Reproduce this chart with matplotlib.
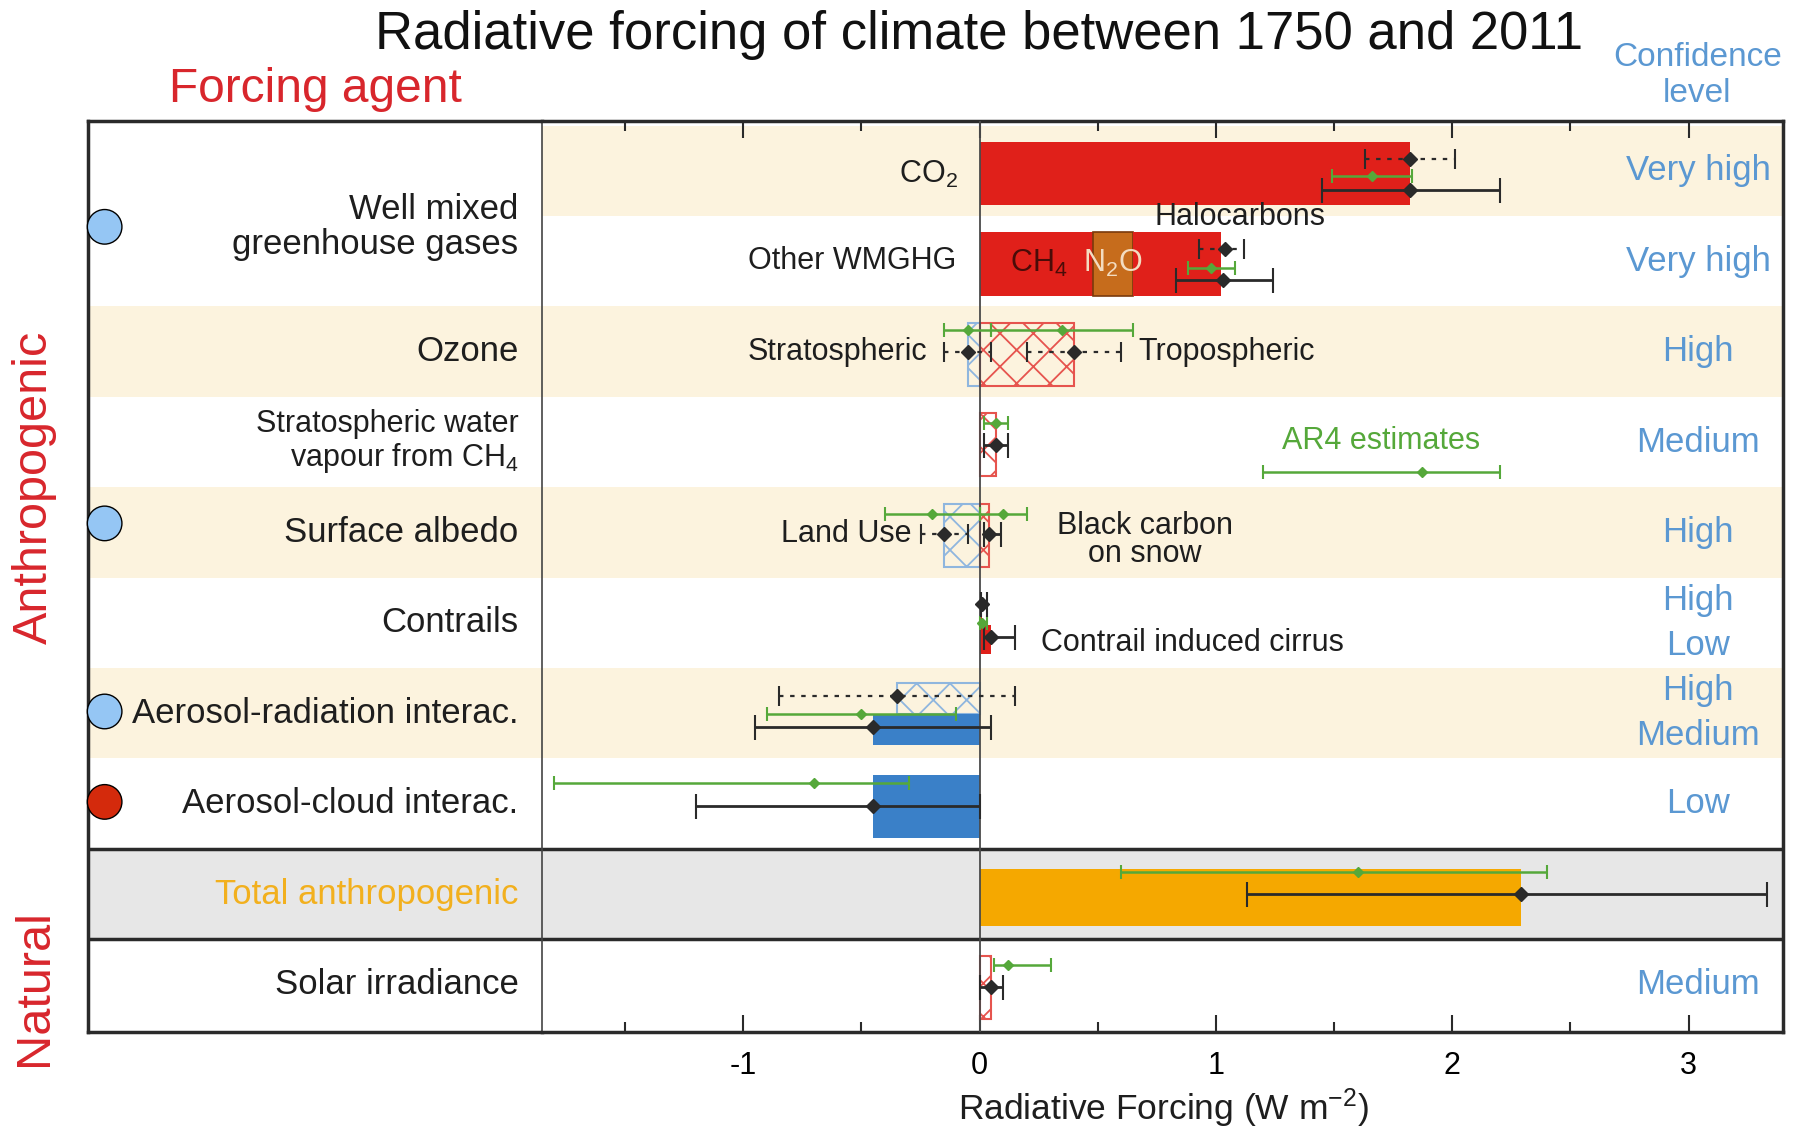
import matplotlib
matplotlib.use('Agg')
import matplotlib.pyplot as plt

plt.rcParams['font.family'] = ['Liberation Sans', 'DejaVu Sans']
plt.rcParams['mathtext.fontset'] = 'custom'
plt.rcParams['mathtext.rm'] = 'Liberation Sans'
plt.rcParams['mathtext.it'] = 'Liberation Sans:italic'
plt.rcParams['mathtext.bf'] = 'Liberation Sans:bold'
plt.rcParams['axes.unicode_minus'] = False
plt.rcParams['hatch.linewidth'] = 1.3

# ---- data (W m-2), rows counted from the top ----
row_labels = ['Well mixed\ngreenhouse gases', '', 'Ozone',
              'Stratospheric water\nvapour from CH$_4$', 'Surface albedo',
              'Contrails', 'Aerosol-radiation interac.', 'Aerosol-cloud interac.',
              'Total anthropogenic', 'Solar irradiance']

# bars (AR5 best estimates)
bar_names = ['CO2', 'CH4', 'N2O', 'Halocarbons', 'Strat. O3', 'Trop. O3',
             'Strat. H2O', 'Land use', 'BC on snow', 'Contrails', 'Contrail cirrus',
             'Aer-rad RF', 'Aer-rad ERF', 'Aer-cloud ERF', 'Total anthropogenic', 'Solar']
bar_rows = [0, 1, 1, 1, 2, 2, 3, 4, 4, 5, 5, 6, 6, 7, 8, 9]
bar_starts = [0, 0, 0.48, 0.65, 0, 0, 0, 0, 0, 0, 0, 0, 0, 0, 0, 0]
bar_values = [1.82, 0.48, 0.17, 0.37, -0.05, 0.40, 0.07, -0.15, 0.04, 0.01, 0.05,
              -0.35, -0.45, -0.45, 2.29, 0.05]

# AR5 ranges (black)
ar5_names = ['CO2', 'CO2 ERF', 'Other WMGHG', 'Other WMGHG ERF', 'Strat. O3', 'Trop. O3',
             'Strat. H2O', 'Land use', 'BC on snow', 'Contrails', 'Contrail cirrus',
             'Aer-rad RF', 'Aer-rad ERF', 'Aer-cloud ERF', 'Total anthropogenic', 'Solar']
ar5_rows = [0, 0, 1, 1, 2, 2, 3, 4, 4, 5, 5, 6, 6, 7, 8, 9]
ar5_best = [1.82, 1.82, 1.04, 1.03, -0.05, 0.40, 0.07, -0.15, 0.04, 0.01, 0.05,
            -0.35, -0.45, -0.45, 2.29, 0.05]
ar5_low = [1.63, 1.45, 0.93, 0.83, -0.15, 0.20, 0.02, -0.25, 0.02, 0.005, 0.02,
           -0.85, -0.95, -1.20, 1.13, 0.00]
ar5_high = [2.01, 2.20, 1.12, 1.24, 0.05, 0.60, 0.12, -0.05, 0.09, 0.03, 0.15,
            0.15, 0.05, 0.00, 3.33, 0.10]

# AR4 estimates (green)
ar4_names = ['CO2', 'Other WMGHG', 'Strat. O3', 'Trop. O3', 'Strat. H2O', 'Land use',
             'BC on snow', 'Contrails', 'Aer-rad', 'Aer-cloud', 'Total anthropogenic', 'Solar']
ar4_rows = [0, 1, 2, 2, 3, 4, 4, 5, 6, 7, 8, 9]
ar4_best = [1.66, 0.98, -0.05, 0.35, 0.07, -0.20, 0.10, 0.01, -0.50, -0.70, 1.60, 0.12]
ar4_low = [1.49, 0.88, -0.15, 0.05, 0.02, -0.40, 0.00, 0.003, -0.90, -1.80, 0.60, 0.06]
ar4_high = [1.83, 1.08, 0.05, 0.65, 0.12, 0.00, 0.20, 0.03, -0.10, -0.30, 2.40, 0.30]
ar4_key = [1.87, 1.20, 2.20]   # best, low, high of the legend sample

conf_text = ['Very high', 'Very high', 'High', 'Medium', 'High', 'High', 'Low',
             'High', 'Medium', 'Low', 'Medium']
conf_rows = [0, 1, 2, 3, 4, 5, 5, 6, 6, 7, 9]

circle_rows = [0.62, 3.9, 5.98, 6.98]
circle_kind = ['light', 'light', 'light', 'dark']

# ---- colours ----
RED = '#e0201a'
N2O_C = '#c66c1c'
BLUE = '#3a80c8'
BLUE_H = '#8fb6de'
RED_H = '#e6544e'
ORANGE = '#f5a800'
BEIGE = '#fcf3de'
GREY = '#e7e7e7'
GREEN = '#55a83a'
CONF = '#5b98d2'
AGENT_RED = '#d8262c'
TOTAL_C = '#f2b01e'
TXT = '#1e1e1e'
LINE = '#2a2a2a'

# vertical span of each bar inside its row (offsets from row centre) and fill
default_span = (-0.32, 0.38)
bar_style = {
    'CO2': dict(fc=RED), 'CH4': dict(fc=RED),
    'N2O': dict(fc=N2O_C, ec='#7a3a0c'), 'Halocarbons': dict(fc=RED),
    'Strat. O3': dict(hatch=BLUE_H), 'Trop. O3': dict(hatch=RED_H),
    'Strat. H2O': dict(hatch=RED_H), 'Land use': dict(hatch=BLUE_H),
    'BC on snow': dict(hatch=RED_H),
    'Contrails': dict(fc=RED, span=(-0.3, 0.0)),
    'Contrail cirrus': dict(fc=RED, span=(0.02, 0.34)),
    'Aer-rad RF': dict(hatch=BLUE_H, span=(-0.34, 0.01)),
    'Aer-rad ERF': dict(fc=BLUE, span=(0.01, 0.35)),
    'Aer-cloud ERF': dict(fc=BLUE),
    'Total anthropogenic': dict(fc=ORANGE, span=(-0.28, 0.35)),
    'Solar': dict(hatch=RED_H),
}
# (offset in row, line style)
ar5_style = {
    'CO2': (-0.13, ':'), 'CO2 ERF': (0.21, '-'),
    'Other WMGHG': (-0.13, ':'), 'Other WMGHG ERF': (0.21, '-'),
    'Strat. O3': (0.0, ':'), 'Trop. O3': (0.0, ':'),
    'Strat. H2O': (0.03, '-'), 'Land use': (0.02, ':'), 'BC on snow': (0.02, '-'),
    'Contrails': (-0.21, '-'), 'Contrail cirrus': (0.16, '-'),
    'Aer-rad RF': (-0.19, ':'), 'Aer-rad ERF': (0.15, '-'),
    'Aer-cloud ERF': (0.02, '-'), 'Total anthropogenic': (0.0, '-'), 'Solar': (0.03, '-'),
}
ar4_offset = [0.06, 0.07, -0.24, -0.24, -0.21, -0.2, -0.2, 0.0, 0.01, -0.23, -0.24, -0.22]

fig = plt.figure(figsize=(17.98, 11.29), dpi=100)
box_bottom, box_top = 0.0863, 0.8924
ax_lab = fig.add_axes([0.0491, box_bottom, 0.2526, box_top - box_bottom])
ax = fig.add_axes([0.3017, box_bottom, 0.69, box_top - box_bottom])

ylim = (9.52, -0.545)
for a in (ax, ax_lab):
    a.set_ylim(*ylim)
    a.set_yticks([])
ax_lab.set_xlim(0, 1)
ax_lab.set_xticks([])
ax.set_xlim(-1.85, 3.40)

# background bands
for r in [0, 2, 4, 6]:
    ax.axhspan(r - 0.5, r + 0.5, color=BEIGE, lw=0, zorder=0)
    if r != 0:
        ax_lab.axhspan(r - 0.5, r + 0.5, color=BEIGE, lw=0, zorder=0)
for a in (ax, ax_lab):
    a.axhspan(7.5, 8.5, color=GREY, lw=0, zorder=0)
    a.axhline(7.5, color=LINE, lw=2.5, zorder=1)
    a.axhline(8.5, color=LINE, lw=2.5, zorder=1)

# bars
for name, row, start, val in zip(bar_names, bar_rows, bar_starts, bar_values):
    st = bar_style[name]
    y0, y1 = st.get('span', default_span)
    yc, h = row + (y0 + y1) / 2, y1 - y0
    if 'hatch' in st:
        ax.barh(yc, val, left=start, height=h, fill=False, hatch='x',
                edgecolor=st['hatch'], lw=1.5, zorder=2)
    else:
        ax.barh(yc, val, left=start, height=h, color=st['fc'],
                edgecolor=st.get('ec', 'none'), lw=1.2, zorder=2)

ax.axvline(0, color='#4a4a4a', lw=1.3, zorder=3)


def draw_range(best, low, high, y, color, lw, ms, cap, ls='-'):
    eb = ax.errorbar(best, y, xerr=[[best - low], [high - best]], fmt='D',
                     color=color, ecolor=color, ms=ms, capsize=cap,
                     elinewidth=lw, capthick=1.5, zorder=5)
    if ls != '-':
        eb[2][0].set_linestyle(ls)


for name, row, b, lo, hi in zip(ar4_names, ar4_rows, ar4_best, ar4_low, ar4_high):
    off = ar4_offset[ar4_names.index(name)]
    draw_range(b, lo, hi, row + off, GREEN, 1.8, 5.5, 5)

for name, row, b, lo, hi in zip(ar5_names, ar5_rows, ar5_best, ar5_low, ar5_high):
    off, ls = ar5_style[name]
    if ls == '-':
        draw_range(b, lo, hi, row + off, LINE, 2.0, 7, 9)
    else:
        draw_range(b, lo, hi, row + off, LINE, 1.6, 7, 7, ls=(0, (2, 3)))

# AR4 key
draw_range(ar4_key[0], ar4_key[1], ar4_key[2], 3.33, GREEN, 1.8, 5.5, 5)
ax.text(1.70, 2.99, 'AR4 estimates', color=GREEN, fontsize=22, ha='center', va='center')

# labels inside the plot
inner = dict(fontsize=22, color=TXT, va='center', zorder=6)
ax.text(-0.09, 0.04, 'CO$_2$', ha='right', **inner)
ax.text(-0.10, 1.0, 'Other WMGHG', ha='right', **inner)
ax.text(1.10, 0.51, 'Halocarbons', ha='center', **inner)
ax.text(0.25, 1.02, 'CH$_4$', ha='center', fontsize=22, color='#4a0c08', va='center', zorder=6)
ax.text(0.565, 1.02, 'N$_2$O', ha='center', fontsize=22, color='#f3dcc0', va='center', zorder=6)
ax.text(-0.22, 2.0, 'Stratospheric', ha='right', **inner)
ax.text(0.67, 2.0, 'Tropospheric', ha='left', **inner)
ax.text(-0.29, 4.02, 'Land Use', ha='right', **inner)
ax.text(0.70, 4.08, 'Black carbon\non snow', ha='center', linespacing=0.9, **inner)
ax.text(0.26, 5.22, 'Contrail induced cirrus', ha='left', **inner)

# confidence levels
seen = {}
for txt, row in zip(conf_text, conf_rows):
    n = conf_rows.count(row)
    k = seen.get(row, 0)
    seen[row] = k + 1
    off = 0.0 if n == 1 else (-0.25 if k == 0 else 0.25)
    ax.text(3.04, row + off, txt, color=CONF, fontsize=25, ha='center', va='center', zorder=6)

# row labels
for i, lab in enumerate(row_labels):
    if not lab:
        continue
    y = 0.62 if i == 0 else i
    fs = 22 if i == 3 else 25
    col = TOTAL_C if i == 8 else TXT
    ax_lab.text(0.947, y, lab, ha='right', va='center', fontsize=fs, color=col,
                linespacing=1.08)

ax_lab.scatter([0.036] * len(circle_rows), circle_rows, s=620,
               c=['#95c6f4' if k == 'light' else '#d42a0c' for k in circle_kind],
               edgecolors='black', linewidths=1, clip_on=False, zorder=10)

# axes styling
ax.set_xticks([-1, 0, 1, 2, 3])
ax.set_xticks([-1.5, -0.5, 0.5, 1.5, 2.5], minor=True)
ax.tick_params(axis='x', which='both', direction='in', top=True, bottom=True,
               width=1.5, color=LINE, labelsize=22, pad=14)
ax.tick_params(axis='x', which='major', length=12)
ax.tick_params(axis='x', which='minor', length=7)
ax.tick_params(axis='y', length=0)
ax_lab.tick_params(length=0)
for s in ['top', 'bottom', 'right']:
    ax.spines[s].set_linewidth(2.5)
    ax.spines[s].set_color(LINE)
ax.spines['left'].set_linewidth(1.2)
ax.spines['left'].set_color('#444444')
for s in ['top', 'bottom', 'left']:
    ax_lab.spines[s].set_linewidth(2.5)
    ax_lab.spines[s].set_color(LINE)
ax_lab.spines['right'].set_visible(False)

fig.text(0.647, 0.0183, 'Radiative Forcing (W m$^{-2}$)', fontsize=25.5, color=TXT,
         ha='center', va='center')

# headings
fig.text(0.5446, 0.969, 'Radiative forcing of climate between 1750 and 2011',
         fontsize=37.9, color='#111111', ha='center', va='center')
fig.text(0.1754, 0.921, 'Forcing agent', fontsize=34.5, color=AGENT_RED,
         ha='center', va='center')
fig.text(0.9439, 0.933, 'Confidence\nlevel', fontsize=24, color=CONF,
         ha='center', va='center', linespacing=1.2)
fig.text(0.0191, 0.5685, 'Anthropogenic', fontsize=35, color=AGENT_RED,
         rotation=90, ha='center', va='center')
fig.text(0.0191, 0.125, 'Natural', fontsize=35, color=AGENT_RED,
         rotation=90, ha='center', va='center')

fig.savefig('out.png', dpi=100)
